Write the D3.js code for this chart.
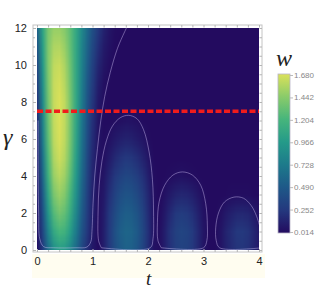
<!DOCTYPE html>
<html>
<head>
<meta charset="utf-8">
<script src="https://cdn.jsdelivr.net/npm/d3@7"></script>
<style>
body { margin: 0; background: #fff; }
svg { display: block; font-family: "Liberation Sans", Arial, sans-serif; }
</style>
</head>
<body>
<div id="container"></div>
<script>
/* CONSTANTS AND GLOBALS */
const width = 315, height = 289;

/* DATA */
// grid: t along columns, gamma along rows
const tValues = [0, 0.1, 0.2, 0.3, 0.4, 0.5, 0.6, 0.7, 0.8, 0.9, 1.0,
  1.1, 1.2, 1.3, 1.4, 1.5, 1.6, 1.7, 1.8, 1.9, 2.0,
  2.1, 2.2, 2.3, 2.4, 2.5, 2.6, 2.7, 2.8, 2.9, 3.0,
  3.1, 3.2, 3.3, 3.4, 3.5, 3.6, 3.7, 3.8, 3.9, 4.0];
const gammaValues = [0, 1, 2, 3, 4, 5, 6, 7, 8, 9, 10, 11, 12];
// w(t, gamma), one row per gamma value (row 0 -> gamma = 0)
const wGrid = [
  [0.03, 0.28, 0.62, 0.88, 0.98, 0.95, 0.80, 0.60, 0.38, 0.20, 0.08,
   0.02, 0.12, 0.26, 0.40, 0.50, 0.55, 0.54, 0.47, 0.35, 0.20, 0.05,
   0.03, 0.12, 0.22, 0.30, 0.33, 0.31, 0.25, 0.16, 0.06, 0.01,
   0.01, 0.06, 0.13, 0.19, 0.23, 0.24, 0.21, 0.15, 0.08],
  [0.05, 0.36, 0.78, 1.08, 1.20, 1.16, 0.98, 0.73, 0.47, 0.25, 0.10,
   0.02, 0.12, 0.27, 0.42, 0.53, 0.58, 0.57, 0.50, 0.37, 0.21, 0.05,
   0.03, 0.12, 0.23, 0.31, 0.35, 0.33, 0.27, 0.17, 0.07, 0.01,
   0.01, 0.06, 0.14, 0.20, 0.25, 0.26, 0.23, 0.16, 0.09],
  [0.06, 0.44, 0.92, 1.25, 1.36, 1.30, 1.10, 0.82, 0.53, 0.29, 0.12,
   0.03, 0.11, 0.25, 0.38, 0.48, 0.53, 0.52, 0.45, 0.34, 0.19, 0.05,
   0.02, 0.09, 0.18, 0.25, 0.28, 0.26, 0.21, 0.13, 0.05, 0.01,
   0.01, 0.04, 0.09, 0.13, 0.16, 0.17, 0.15, 0.10, 0.05],
  [0.08, 0.52, 1.04, 1.38, 1.48, 1.41, 1.19, 0.89, 0.58, 0.32, 0.13,
   0.04, 0.09, 0.21, 0.32, 0.41, 0.45, 0.44, 0.38, 0.28, 0.16, 0.04,
   0.01, 0.05, 0.10, 0.14, 0.16, 0.15, 0.12, 0.07, 0.03, 0.01,
   0.01, 0.01, 0.02, 0.03, 0.03, 0.03, 0.03, 0.02, 0.01],
  [0.10, 0.60, 1.14, 1.48, 1.57, 1.50, 1.27, 0.95, 0.63, 0.35, 0.15,
   0.04, 0.07, 0.16, 0.25, 0.32, 0.36, 0.35, 0.30, 0.22, 0.12, 0.03,
   0.01, 0.02, 0.03, 0.04, 0.05, 0.04, 0.03, 0.02, 0.01, 0.01,
   0.01, 0.01, 0.01, 0.01, 0.01, 0.01, 0.01, 0.01, 0.01],
  [0.12, 0.68, 1.22, 1.55, 1.64, 1.56, 1.33, 1.00, 0.67, 0.38, 0.17,
   0.05, 0.04, 0.10, 0.17, 0.22, 0.25, 0.24, 0.20, 0.14, 0.07, 0.02,
   0.01, 0.01, 0.01, 0.01, 0.01, 0.01, 0.01, 0.01, 0.01, 0.01,
   0.01, 0.01, 0.01, 0.01, 0.01, 0.01, 0.01, 0.01, 0.01],
  [0.15, 0.75, 1.28, 1.59, 1.67, 1.59, 1.36, 1.04, 0.70, 0.41, 0.19,
   0.06, 0.03, 0.05, 0.09, 0.12, 0.14, 0.13, 0.10, 0.07, 0.03, 0.01,
   0.01, 0.01, 0.01, 0.01, 0.01, 0.01, 0.01, 0.01, 0.01, 0.01,
   0.01, 0.01, 0.01, 0.01, 0.01, 0.01, 0.01, 0.01, 0.01],
  [0.18, 0.80, 1.32, 1.61, 1.68, 1.60, 1.37, 1.06, 0.73, 0.44, 0.21,
   0.07, 0.02, 0.02, 0.03, 0.04, 0.05, 0.05, 0.04, 0.02, 0.01, 0.01,
   0.01, 0.01, 0.01, 0.01, 0.01, 0.01, 0.01, 0.01, 0.01, 0.01,
   0.01, 0.01, 0.01, 0.01, 0.01, 0.01, 0.01, 0.01, 0.01],
  [0.22, 0.85, 1.35, 1.62, 1.68, 1.60, 1.37, 1.07, 0.76, 0.47, 0.24,
   0.09, 0.03, 0.01, 0.01, 0.01, 0.01, 0.01, 0.01, 0.01, 0.01, 0.01,
   0.01, 0.01, 0.01, 0.01, 0.01, 0.01, 0.01, 0.01, 0.01, 0.01,
   0.01, 0.01, 0.01, 0.01, 0.01, 0.01, 0.01, 0.01, 0.01],
  [0.28, 0.90, 1.38, 1.62, 1.66, 1.57, 1.35, 1.07, 0.78, 0.50, 0.28,
   0.12, 0.04, 0.02, 0.01, 0.01, 0.01, 0.01, 0.01, 0.01, 0.01, 0.01,
   0.01, 0.01, 0.01, 0.01, 0.01, 0.01, 0.01, 0.01, 0.01, 0.01,
   0.01, 0.01, 0.01, 0.01, 0.01, 0.01, 0.01, 0.01, 0.01],
  [0.35, 0.95, 1.40, 1.60, 1.63, 1.54, 1.33, 1.07, 0.80, 0.54, 0.32,
   0.16, 0.07, 0.03, 0.01, 0.01, 0.01, 0.01, 0.01, 0.01, 0.01, 0.01,
   0.01, 0.01, 0.01, 0.01, 0.01, 0.01, 0.01, 0.01, 0.01, 0.01,
   0.01, 0.01, 0.01, 0.01, 0.01, 0.01, 0.01, 0.01, 0.01],
  [0.45, 1.00, 1.40, 1.55, 1.56, 1.48, 1.30, 1.07, 0.82, 0.58, 0.37,
   0.21, 0.10, 0.05, 0.02, 0.01, 0.01, 0.01, 0.01, 0.01, 0.01, 0.01,
   0.01, 0.01, 0.01, 0.01, 0.01, 0.01, 0.01, 0.01, 0.01, 0.01,
   0.01, 0.01, 0.01, 0.01, 0.01, 0.01, 0.01, 0.01, 0.01],
  [0.55, 1.05, 1.38, 1.48, 1.48, 1.42, 1.28, 1.08, 0.85, 0.62, 0.42,
   0.26, 0.14, 0.07, 0.03, 0.02, 0.01, 0.01, 0.01, 0.01, 0.01, 0.01,
   0.01, 0.01, 0.01, 0.01, 0.01, 0.01, 0.01, 0.01, 0.01, 0.01,
   0.01, 0.01, 0.01, 0.01, 0.01, 0.01, 0.01, 0.01, 0.01]
];

// contour lines [t, gamma]
const contourLobe1 = [[0.02, 7], [0.02, 4], [0.03, 2], [0.05, 0.6], [0.12, 0.18], [0.3, 0.12],
  [0.7, 0.12], [0.9, 0.16], [0.97, 0.45], [0.99, 1], [1.01, 2.5], [1.04, 4], [1.09, 5.5],
  [1.15, 7], [1.22, 8.3], [1.32, 9.6], [1.45, 10.9], [1.58, 11.8], [1.66, 12.3]];
const contourLobe2 = [[1.16, 0.12], [1.11, 0.5], [1.1, 2], [1.12, 3.5], [1.17, 4.8], [1.25, 5.9],
  [1.36, 6.7], [1.5, 7.15], [1.65, 7.28], [1.8, 7.1], [1.92, 6.5], [2.02, 5.3], [2.08, 3.8],
  [2.1, 2], [2.09, 0.6], [2.04, 0.12], [1.16, 0.12]];
const contourLobe3 = [[2.24, 0.12], [2.18, 0.5], [2.17, 1.5], [2.2, 2.6], [2.3, 3.5], [2.45, 4.05],
  [2.62, 4.22], [2.8, 4.05], [2.95, 3.5], [3.04, 2.5], [3.07, 1.3], [3.06, 0.5], [3.0, 0.12], [2.24, 0.12]];
const contourLobe4 = [[4.05, 0.12], [3.29, 0.12], [3.23, 0.5], [3.22, 1.2], [3.27, 2.0], [3.38, 2.6],
  [3.55, 2.86], [3.72, 2.8], [3.86, 2.4], [3.96, 1.8], [4.03, 1.1]];

const cutGamma = 7.5; // red dashed line

// axis ticks
const tTicks = [0, 1, 2, 3, 4];
const tMinor = [0.2, 0.4, 0.6, 0.8, 1.2, 1.4, 1.6, 1.8, 2.2, 2.4, 2.6, 2.8, 3.2, 3.4, 3.6, 3.8];
const gammaTicks = [0, 2, 4, 6, 8, 10, 12];
const gammaMinor = [0.5, 1, 1.5, 2.5, 3, 3.5, 4.5, 5, 5.5, 6.5, 7, 7.5, 8.5, 9, 9.5, 10.5, 11, 11.5];
const barTicks = [0.014, 0.252, 0.490, 0.728, 0.966, 1.204, 1.442, 1.680];
const barColors = ["#230b5f", "#24387e", "#1e5888", "#1d7a8b", "#249a89", "#46b57c", "#8acb6a", "#dae15a"];

/* SCALES */
const x = d3.scaleLinear().domain([0, 4]).range([37, 259]);
const y = d3.scaleLinear().domain([0, 12]).range([250, 28]);
const color = d3.scaleLinear().domain(barTicks).range(barColors)
  .interpolate(d3.interpolateRgb).clamp(true);
const yBar = d3.scaleLinear().domain([0.014, 1.68]).range([232, 75]);

const svg = d3.select("#container").append("svg")
  .attr("width", width)
  .attr("height", height);

// pale strip behind the t axis labels
svg.append("rect").attr("x", 32).attr("y", 254).attr("width", 233).attr("height", 24)
  .attr("fill", "#fffdf0");

/* HEATMAP */
const nx = tValues.length, ny = gammaValues.length;
const canvas = document.createElement("canvas");
canvas.width = nx; canvas.height = ny;
const ctx = canvas.getContext("2d");
const img = ctx.createImageData(nx, ny);
gammaValues.forEach((g, j) => {
  const row = ny - 1 - j;
  tValues.forEach((t, i) => {
    const c = d3.rgb(color(wGrid[j][i]));
    const k = (row * nx + i) * 4;
    img.data[k] = c.r; img.data[k + 1] = c.g; img.data[k + 2] = c.b; img.data[k + 3] = 255;
  });
});
ctx.putImageData(img, 0, 0);

svg.append("clipPath").attr("id", "plotclip").append("rect")
  .attr("x", x(0)).attr("y", y(12))
  .attr("width", x(4) - x(0)).attr("height", y(0) - y(12));

const plot = svg.append("g").attr("clip-path", "url(#plotclip)");
const halfT = 0.05, halfG = 0.5;
plot.append("image")
  .attr("href", canvas.toDataURL())
  .attr("preserveAspectRatio", "none")
  .attr("x", x(-halfT)).attr("y", y(12 + halfG))
  .attr("width", x(4 + halfT) - x(-halfT))
  .attr("height", y(-halfG) - y(12 + halfG));

const line = d3.line().x(d => x(d[0])).y(d => y(d[1])).curve(d3.curveCatmullRom);
plot.selectAll("path.contour")
  .data([contourLobe1, contourLobe2, contourLobe3, contourLobe4])
  .join("path")
  .attr("class", "contour")
  .attr("d", line)
  .attr("fill", "none")
  .attr("stroke", "rgba(215,200,250,0.42)")
  .attr("stroke-width", 1);

plot.append("line")
  .attr("x1", x(0)).attr("x2", x(4))
  .attr("y1", y(cutGamma)).attr("y2", y(cutGamma))
  .attr("stroke", "#f01c1c").attr("stroke-width", 3.5)
  .attr("stroke-dasharray", "6,2.5");

/* FRAME AND AXES */
svg.append("rect").attr("x", 33).attr("y", 25).attr("width", 229).attr("height", 227)
  .attr("fill", "none").attr("stroke", "#c4c4c4").attr("stroke-width", 1);

const tickColor = "#b4b4b4";
function styleAxis(g) {
  g.select(".domain").remove();
  g.selectAll(".tick line").attr("stroke", tickColor);
  g.selectAll(".tick text").attr("fill", "#222").style("font-size", "11px");
}
svg.append("g").attr("transform", "translate(0,252)")
  .call(d3.axisBottom(x).tickValues(tTicks).tickSizeInner(-3).tickSizeOuter(0).tickPadding(5)
    .tickFormat(d3.format("d")))
  .call(styleAxis);
svg.append("g").attr("transform", "translate(0,252)")
  .call(d3.axisBottom(x).tickValues(tMinor).tickSize(-2).tickFormat(""))
  .call(styleAxis);
svg.append("g").attr("transform", "translate(0,25)")
  .call(d3.axisTop(x).tickValues(tTicks.concat(tMinor)).tickSize(-2.5).tickFormat(""))
  .call(styleAxis);
svg.append("g").attr("transform", "translate(33,0)")
  .call(d3.axisLeft(y).tickValues(gammaTicks).tickSizeInner(-3).tickSizeOuter(0).tickPadding(6)
    .tickFormat(d3.format("d")))
  .call(styleAxis);
svg.append("g").attr("transform", "translate(33,0)")
  .call(d3.axisLeft(y).tickValues(gammaMinor).tickSize(-2).tickFormat(""))
  .call(styleAxis);
svg.append("g").attr("transform", "translate(262,0)")
  .call(d3.axisRight(y).tickValues(gammaTicks.concat(gammaMinor)).tickSize(-2.5).tickFormat(""))
  .call(styleAxis);

/* COLORBAR */
const grad = svg.append("defs").append("linearGradient")
  .attr("id", "wgrad").attr("x1", 0).attr("x2", 0).attr("y1", 1).attr("y2", 0);
grad.selectAll("stop").data(barTicks).join("stop")
  .attr("offset", d => (d - 0.014) / (1.68 - 0.014))
  .attr("stop-color", d => color(d));
svg.append("rect").attr("x", 278).attr("y", 74).attr("width", 12).attr("height", 159)
  .attr("fill", "url(#wgrad)").attr("stroke", "#b8b4c8").attr("stroke-width", 0.8);
const barAxis = svg.append("g").attr("transform", "translate(290,0)")
  .call(d3.axisRight(yBar).tickValues(barTicks).tickSize(3).tickPadding(1).tickFormat(d3.format(".3f")));
barAxis.select(".domain").remove();
barAxis.selectAll(".tick line").attr("stroke", "#bbb");
barAxis.selectAll(".tick text").attr("fill", "#888").style("font-size", "8px");

/* LABELS */
const labelFont = "'Liberation Serif', 'Times New Roman', serif";
svg.append("text").attr("x", 3).attr("y", 145).text("γ")
  .style("font-family", labelFont).style("font-style", "italic").style("font-size", "24px").attr("fill", "#222");
svg.append("text").attr("x", 146).attr("y", 285).text("t")
  .style("font-family", labelFont).style("font-style", "italic").style("font-size", "19px").attr("fill", "#222");
svg.append("text").attr("x", 276).attr("y", 66).text("w")
  .style("font-family", labelFont).style("font-style", "italic").style("font-size", "24px").attr("fill", "#222");
</script>
</body>
</html>
